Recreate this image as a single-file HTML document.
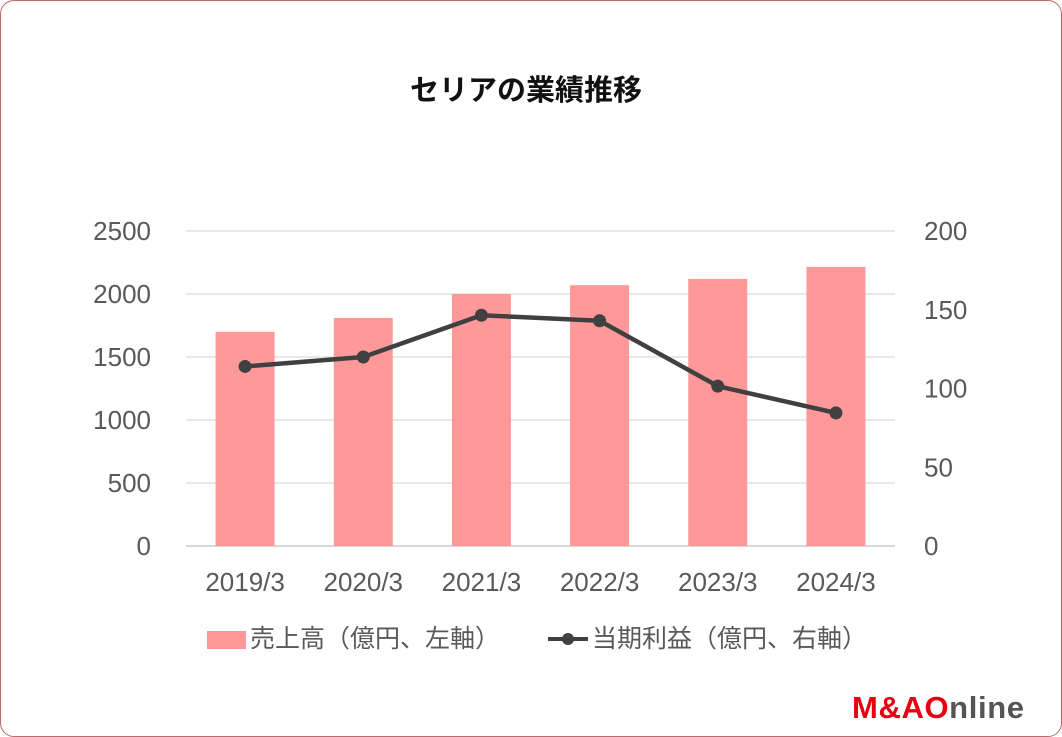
<!DOCTYPE html>
<html><head><meta charset="utf-8"><style>
html,body{margin:0;padding:0;background:#fff;}
body{width:1062px;height:737px;overflow:hidden;position:relative;font-family:"Liberation Sans","Noto Sans CJK JP",sans-serif;}
#frame{position:absolute;left:0;top:0;border:1px solid #b86c6c;border-radius:14px;box-sizing:border-box;width:1062px;height:737px;}
</style></head><body>
<div id="frame"></div>
<svg id="chart" width="1062" height="737" style="position:absolute;left:0;top:0">
<text x="526" y="100" text-anchor="middle" font-size="29" font-weight="bold" fill="#111" font-family="'Noto Sans CJK JP',sans-serif">セリアの業績推移</text>
<g id="grid"></g><g id="bars"></g><g id="line"></g><g id="axes"></g>
<g>
<rect x="207" y="631" width="39" height="18" fill="#ff9999"/>
<text x="250" y="647" font-size="25" fill="#595959" font-family="'Noto Sans CJK JP',sans-serif">売上高（億円、左軸）</text>
<line x1="548" y1="639" x2="588" y2="639" stroke="#404040" stroke-width="4"/>
<circle cx="568" cy="639" r="6" fill="#404040"/>
<text x="592" y="647" font-size="25" fill="#595959" font-family="'Noto Sans CJK JP',sans-serif">当期利益（億円、右軸）</text>
</g>
<text x="852" y="718" font-size="31" font-weight="bold" fill="#e60012" font-family="'Liberation Sans',sans-serif" textLength="172">M&amp;AO<tspan fill="#555">nline</tspan></text>
</svg>
<script>
const categories=["2019/3","2020/3","2021/3","2022/3","2023/3","2024/3"];
const sales=[1700,1810,2000,2070,2120,2215];
const profit=[114,120,146.5,143,101.5,84.5];
const leftTicks=[0,500,1000,1500,2000,2500];
const rightTicks=[0,50,100,150,200];
const NS="http://www.w3.org/2000/svg";
const x0=186,x1=895,yB=546,yT=231;
const step=(x1-x0)/categories.length;
const xC=i=>x0+step*(i+0.5);
const yL=v=>yB-(v/2500)*(yB-yT);
const yR=v=>yB-(v/200)*(yB-yT);
function mk(t,a,p){const e=document.createElementNS(NS,t);for(const k in a)e.setAttribute(k,a[k]);p.appendChild(e);return e;}
const grid=document.getElementById('grid'),bars=document.getElementById('bars'),line=document.getElementById('line'),axes=document.getElementById('axes');
leftTicks.forEach(v=>{
 const l=mk('line',{x1:x0,x2:x1,y1:yL(v),y2:yL(v),stroke:v===0?'#bfbfbf':'#d9d9d9','stroke-width':1.3},grid);
 
 
 const t=mk('text',{x:151,y:yL(v)+9,'text-anchor':'end','font-size':26,fill:'#595959'},axes);t.textContent=v;
 
 
});
rightTicks.forEach(v=>{
 const t=mk('text',{x:924,y:yR(v)+9,'font-size':26,fill:'#595959'},axes);t.textContent=v;
 
 
});
categories.forEach((c,i)=>{
 const b=mk('rect',{x:xC(i)-29.5,y:yL(sales[i]),width:59,height:yB-yL(sales[i]),fill:'#ff9999'},bars);
 
 
 const t=mk('text',{x:xC(i),y:591,'text-anchor':'middle','font-size':26,fill:'#595959'},axes);t.textContent=c;
 
 
});
const pl=mk('polyline',{points:profit.map((v,i)=>xC(i)+','+yR(v)).join(' '),fill:'none',stroke:'#404040','stroke-width':4.5,'stroke-linejoin':'round'},line);


profit.forEach((v,i)=>{
 const p=mk('circle',{cx:xC(i),cy:yR(v),r:6.5,fill:'#404040'},line);
 
 
});
</script>
</body></html>
